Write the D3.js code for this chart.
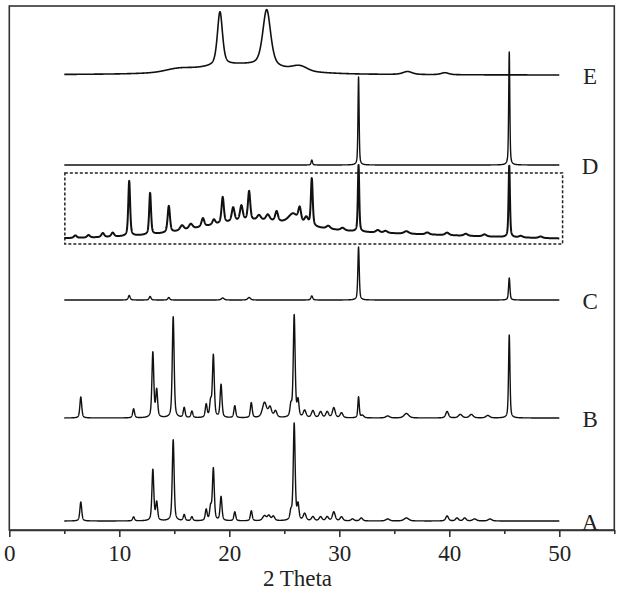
<!DOCTYPE html>
<html>
<head>
<meta charset="utf-8">
<script src="https://cdn.jsdelivr.net/npm/d3@7"></script>
<style>
    body { margin: 0; background: #fff; }
</style>
</head>
<body>
<script>
        //size of the page
        var width = 626;
        var height = 594;

        //sample names and the stacking offset of each pattern (intensity units)
        var sampleLabels = ["A", "B", "C", "D", "E"];
        var offsets = [1.8, 22.4, 46.0, 73.0, 91.0];
        var zoomOffset = 58.0;

        //2 theta ticks
        var majorTicks = [0, 10, 20, 30, 40, 50];
        var minorTicks = [5, 15, 25, 35, 45, 55];

        //peaks: [2 theta, height, fwhm]
        var peaksA = [[6.5, 3.8, 0.2], [11.3, 0.8, 0.2], [13.05, 10.2, 0.2], [13.4, 3.6, 0.2], [14.9, 16.2, 0.2],
            [15.9, 1.2, 0.2], [16.6, 0.8, 0.2], [17.9, 2.2, 0.2], [18.3, 2.6, 0.2], [18.55, 10.4, 0.2],
            [19.25, 4.8, 0.2], [20.5, 1.8, 0.2], [22.0, 2.0, 0.2], [23.2, 1.0, 0.4], [23.6, 1.0, 0.3],
            [24.0, 0.9, 0.3], [25.6, 1.6, 0.2], [25.9, 19.4, 0.2], [26.25, 3.0, 0.2], [26.85, 1.4, 0.3],
            [27.6, 0.8, 0.3], [28.3, 0.8, 0.3], [28.9, 0.8, 0.3], [29.5, 1.8, 0.3], [30.2, 0.8, 0.3],
            [31.2, 0.4, 0.3], [32.0, 0.6, 0.3], [34.4, 0.4, 0.4], [36.1, 0.6, 0.5], [39.8, 1.0, 0.3],
            [40.7, 0.6, 0.3], [41.4, 0.6, 0.3], [42.3, 0.4, 0.4], [43.7, 0.4, 0.4]];

        var peaksB = [[6.5, 4.2, 0.2], [11.3, 1.8, 0.2], [13.05, 13.0, 0.2], [13.4, 5.4, 0.2], [14.9, 20.2, 0.2],
            [15.9, 2.0, 0.2], [16.6, 1.3, 0.2], [17.9, 2.6, 0.2], [18.3, 3.0, 0.2], [18.55, 12.4, 0.2],
            [19.25, 6.6, 0.2], [20.5, 2.4, 0.2], [22.0, 3.0, 0.2], [23.2, 3.0, 0.45], [23.7, 2.0, 0.35],
            [24.2, 1.3, 0.3], [25.6, 2.2, 0.2], [25.9, 20.4, 0.2], [26.25, 3.2, 0.2], [26.85, 1.4, 0.3],
            [27.6, 1.4, 0.3], [28.3, 1.2, 0.3], [28.9, 1.2, 0.3], [29.5, 2.0, 0.3], [30.2, 1.0, 0.3],
            [31.75, 4.2, 0.15], [32.1, 0.5, 0.3], [34.4, 0.4, 0.4], [36.1, 0.9, 0.5], [39.8, 1.3, 0.3],
            [41.0, 0.7, 0.4], [42.0, 0.7, 0.4], [43.5, 0.5, 0.4], [45.45, 16.6, 0.15]];

        var peaksC = [[10.9, 0.9, 0.2], [12.8, 0.7, 0.2], [14.5, 0.5, 0.2], [19.4, 0.4, 0.3], [21.8, 0.5, 0.3],
            [27.5, 0.8, 0.2], [31.75, 10.6, 0.15], [45.45, 4.4, 0.15]];

        var peaksD = [[27.5, 1.0, 0.15], [31.75, 17.6, 0.12], [45.45, 22.6, 0.12]];

        var peaksE = [[19.15, 10.7, 0.55], [23.4, 11.3, 0.85], [36.2, 0.6, 1.0], [39.6, 0.4, 0.8]];
        //broad amorphous background of E: [2 theta, height, fwhm]
        var bgE = [[21, 1.8, 9], [20, 0.3, 25], [15.3, 0.5, 2.5], [26.4, 0.9, 1.5]];

        //C pattern magnified (inside the dotted box)
        var peaksZoom = [[6.0, 0.5, 0.3], [7.2, 0.5, 0.3], [8.5, 0.8, 0.3], [9.4, 0.8, 0.3], [10.9, 11.0, 0.2],
            [12.8, 8.3, 0.2], [14.5, 5.3, 0.25], [15.7, 1.0, 0.4], [16.5, 1.0, 0.4], [17.6, 1.7, 0.3],
            [18.6, 1.0, 0.3], [19.4, 5.2, 0.25], [20.35, 2.8, 0.3], [21.1, 3.0, 0.3], [21.8, 5.8, 0.25],
            [22.7, 1.0, 0.4], [23.5, 1.2, 0.4], [24.3, 2.0, 0.3], [25.8, 2.0, 1.0], [26.4, 2.8, 0.3],
            [27.0, 1.5, 0.4], [27.5, 9.5, 0.2], [29.0, 0.6, 0.4], [30.3, 0.5, 0.4], [31.75, 13.3, 0.15],
            [33.5, 0.5, 0.4], [34.2, 0.4, 0.4], [36.1, 0.5, 0.5], [38.0, 0.4, 0.4], [39.8, 0.5, 0.4],
            [41.5, 0.4, 0.4], [43.2, 0.4, 0.4], [45.45, 14.3, 0.15], [46.5, 0.3, 0.4], [48.3, 0.3, 0.4]];
        var bgZoom = [[27, 1.6, 30], [22, 2.4, 10]];

        //dotted box round the magnified pattern, in data units
        var zoomBoxX = [5.05, 50.3];
        var zoomBoxY = [57.2, 71.4];

        //scales
        var x = d3.scaleLinear().domain([0, 55]).range([9.3, 614.3]);
        var y = d3.scaleLinear().domain([0, 104.8]).range([530, 6]);

        var serif = "'Liberation Serif', 'Times New Roman', serif";

        var svg = d3.select("body")
                    .append("svg")
                    .attr("width", width)
                    .attr("height", height)
                    .style("font-family", serif);

        //pseudo-voigt peaks plus gaussian background
        function profile(peaks, bg, t) {
            var s = 0;
            peaks.forEach(function(p) {
                var u = (t - p[0]) / p[2];
                s += p[1] * (0.5 / (1 + 4 * u * u) + 0.5 * Math.exp(-2.7726 * u * u));
            });
            bg.forEach(function(p) {
                var u = (t - p[0]) / p[2];
                s += p[1] * Math.exp(-2.7726 * u * u);
            });
            return s;
        }

        var grid = d3.range(5, 50.0001, 0.01);

        var line = d3.line()
                     .x(function(d) { return x(d[0]); })
                     .y(function(d) { return y(d[1]); });

        var patterns = [
            { peaks: peaksA, bg: [], base: offsets[0], w: 1.4 },
            { peaks: peaksB, bg: [], base: offsets[1], w: 1.4 },
            { peaks: peaksC, bg: [], base: offsets[2], w: 1.4 },
            { peaks: peaksZoom, bg: bgZoom, base: zoomOffset, w: 2.0 },
            { peaks: peaksD, bg: [], base: offsets[3], w: 1.4 },
            { peaks: peaksE, bg: bgE, base: offsets[4], w: 1.6 }
        ];

        patterns.forEach(function(p) {
            var pts = grid.map(function(t) { return [t, p.base + profile(p.peaks, p.bg, t)]; });
            svg.append("path")
               .attr("d", line(pts))
               .attr("fill", "none")
               .attr("stroke", "#111")
               .attr("stroke-width", p.w)
               .attr("stroke-linejoin", "round");
        });

        //dotted box
        svg.append("rect")
           .attr("x", x(zoomBoxX[0]))
           .attr("y", y(zoomBoxY[1]))
           .attr("width", x(zoomBoxX[1]) - x(zoomBoxX[0]))
           .attr("height", y(zoomBoxY[0]) - y(zoomBoxY[1]))
           .attr("fill", "none")
           .attr("stroke", "#222")
           .attr("stroke-width", 1.5)
           .attr("stroke-dasharray", "3,2");

        //frame
        svg.append("rect")
           .attr("x", x(0))
           .attr("y", y(104.8))
           .attr("width", x(55) - x(0))
           .attr("height", y(0) - y(104.8))
           .attr("fill", "none")
           .attr("stroke", "#333")
           .attr("stroke-width", 1.6);

        //bottom axis, major and minor ticks
        var axisG = svg.append("g")
           .attr("transform", "translate(0," + y(0) + ")")
           .call(d3.axisBottom(x).tickValues(majorTicks).tickSize(7).tickSizeOuter(0).tickPadding(8).tickFormat(d3.format("d")));
        axisG.select(".domain").attr("stroke", "#333").attr("stroke-width", 1.6);
        axisG.selectAll(".tick line").attr("stroke", "#333").attr("stroke-width", 1.6);
        axisG.selectAll(".tick text").attr("font-size", "23px").attr("fill", "#222")
             .style("font-family", serif);

        var minorG = svg.append("g")
           .attr("transform", "translate(0," + y(0) + ")")
           .call(d3.axisBottom(x).tickValues(minorTicks).tickSize(4).tickSizeOuter(0).tickFormat(""));
        minorG.select(".domain").remove();
        minorG.selectAll(".tick line").attr("stroke", "#333").attr("stroke-width", 1.6);

        //axis title
        svg.append("text")
           .attr("x", x(26.2))
           .attr("y", 586)
           .style("text-anchor", "middle")
           .attr("font-size", "23px")
           .attr("fill", "#222")
           .text("2 Theta");

        //sample labels
        sampleLabels.forEach(function(l, i) {
            svg.append("text")
               .attr("x", x(52.8))
               .attr("y", y(offsets[i]) + 9)
               .style("text-anchor", "middle")
               .attr("font-size", "23px")
               .attr("fill", "#222")
               .text(l);
        });
</script>
</body>
</html>
